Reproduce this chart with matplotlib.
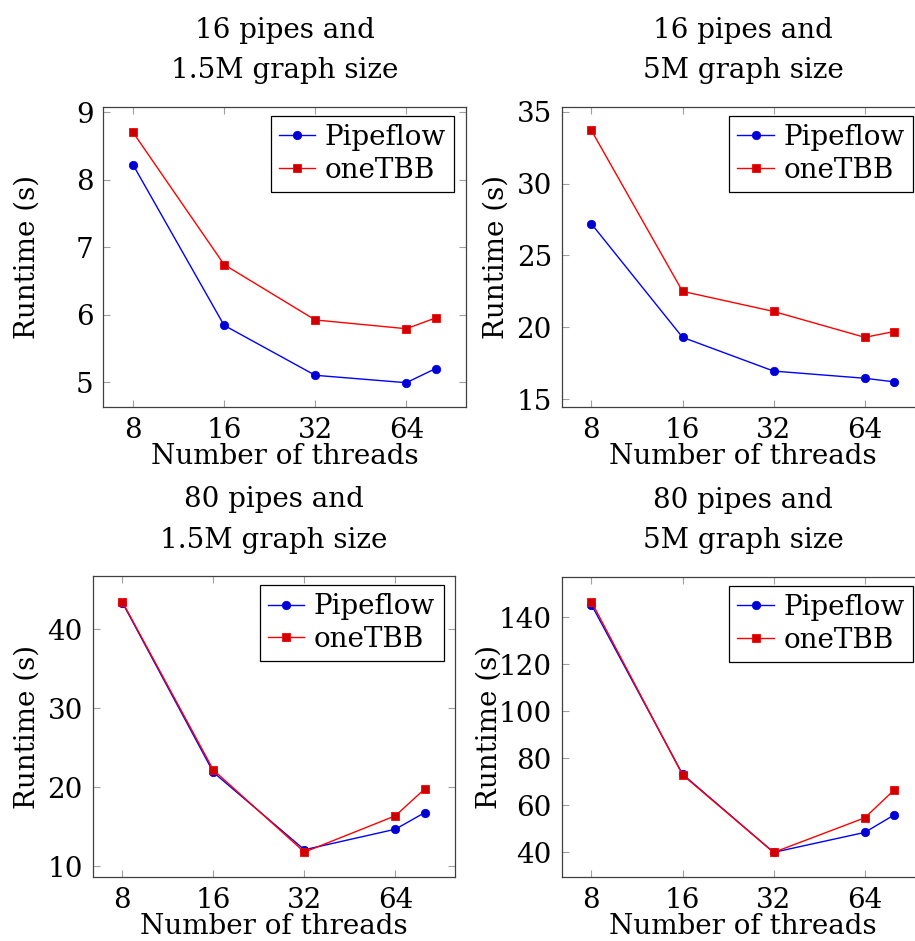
import matplotlib
matplotlib.use("Agg")
from matplotlib import pyplot as plt
from matplotlib.ticker import FixedLocator, FixedFormatter, NullLocator

plt.rcParams['font.family'] = ['DejaVu Serif']
plt.rcParams['font.size'] = 20

threads = [8, 16, 32, 64, 80]
thread_ticks = [8, 16, 32, 64]

titles = ["16 pipes and\n1.5M graph size", "16 pipes and\n5M graph size",
          "80 pipes and\n1.5M graph size", "80 pipes and\n5M graph size"]

# runtime (s)
pipeflow_16_15m = [8.22, 5.84, 5.10, 4.99, 5.20]
onetbb_16_15m = [8.70, 6.74, 5.92, 5.79, 5.95]
pipeflow_16_5m = [27.2, 19.3, 16.95, 16.45, 16.2]
onetbb_16_5m = [33.7, 22.5, 21.1, 19.3, 19.7]
pipeflow_80_15m = [43.4, 21.9, 12.1, 14.7, 16.8]
onetbb_80_15m = [43.5, 22.2, 11.8, 16.4, 19.8]
pipeflow_80_5m = [145.4, 73.3, 40.0, 48.5, 55.9]
onetbb_80_5m = [146.7, 73.0, 40.0, 54.7, 66.5]

y_ticks = [[5, 6, 7, 8, 9], [15, 20, 25, 30, 35], [10, 20, 30, 40], [40, 60, 80, 100, 120, 140]]
y_lims = [(4.63, 9.08), (14.45, 35.35), (8.65, 46.76), (29.4, 157.3)]

W, H = 915, 941
fig = plt.figure(figsize=(W / 100, H / 100), dpi=100)

# axes boxes in pixels: left, right, top, bottom
boxes = [(103.3, 466.0, 106.7, 407.0), (561.7, 924.4, 106.7, 407.0),
         (92.7, 455.0, 576.0, 877.0), (561.7, 924.4, 576.7, 877.3)]
ylabel_x = [-0.174, -0.144, -0.144, -0.164]

series = [(pipeflow_16_15m, onetbb_16_15m), (pipeflow_16_5m, onetbb_16_5m),
          (pipeflow_80_15m, onetbb_80_15m), (pipeflow_80_5m, onetbb_80_5m)]

for i, (l, r, t, b) in enumerate(boxes):
    ax = fig.add_axes([l / W, 1 - b / H, (r - l) / W, (b - t) / H])
    pf, tbb = series[i]
    ax.plot(threads, pf, color='blue', lw=1.0, marker='o', ms=6,
            mfc=(0, 0, 0.8), mec='blue', mew=0.6, label='Pipeflow')
    ax.plot(threads, tbb, color='red', lw=1.0, marker='s', ms=5.6,
            mfc=(0.8, 0, 0), mec='red', mew=0.6, label='oneTBB')
    ax.set_xscale('log', base=2)
    ax.set_xlim(2 ** 2.674, 2 ** 6.655)
    ax.xaxis.set_major_locator(FixedLocator(thread_ticks))
    ax.xaxis.set_major_formatter(FixedFormatter([str(v) for v in thread_ticks]))
    ax.xaxis.set_minor_locator(NullLocator())
    ax.set_ylim(*y_lims[i])
    ax.set_yticks(y_ticks[i])
    ax.tick_params(direction='in', length=5, width=0.8, color='#a0a0a0',
                   top=True, right=True, pad=7)
    for sp in ax.spines.values():
        sp.set_color('#404040')
        sp.set_linewidth(0.9)
    ax.set_title(titles[i], pad=20.5, linespacing=1.65, fontsize=20)
    ax.set_xlabel('Number of threads', labelpad=-0.5)
    ax.set_ylabel('Runtime (s)')
    ax.yaxis.set_label_coords(ylabel_x[i], 0.5)
    box_w = r - l
    box_h = b - t
    leg = ax.legend(loc='upper right',
                    bbox_to_anchor=(1 - 11.5 / box_w, 1 - 9 / box_h),
                    borderaxespad=0, fancybox=False, framealpha=1,
                    edgecolor='black', handlelength=1.3, handletextpad=0.35,
                    borderpad=0.3, labelspacing=0.2, fontsize=20)
    leg.get_frame().set_linewidth(0.9)

fig.savefig('out.png', dpi=100)
